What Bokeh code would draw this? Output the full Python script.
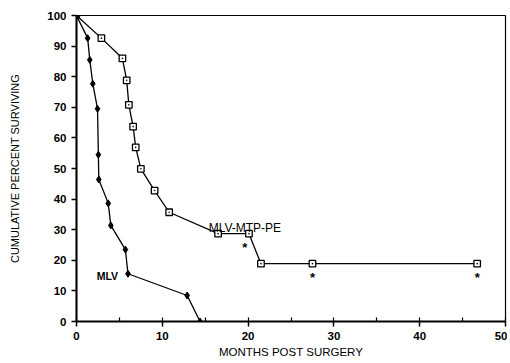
from bokeh.plotting import figure
from bokeh.models import SingleIntervalTicker, Range1d
from bokeh.embed import file_html
from bokeh.resources import INLINE
from bokeh.core.properties import value

# MLV (filled diamonds)
mlv_months = [0, 1.3, 1.55, 1.9, 2.45, 2.55, 2.6, 3.7, 4.0, 5.7, 6.0, 12.9, 14.4]
mlv_pct = [100, 92.6, 85.5, 77.7, 69.5, 54.5, 46.4, 38.6, 31.4, 23.5, 15.6, 8.5, 0]

# MLV-MTP-PE (open squares)
mtp_months = [0, 2.9, 5.35, 5.85, 6.1, 6.6, 6.9, 7.5, 9.1, 10.8, 16.5, 20.1, 21.5, 27.5, 46.7]
mtp_pct = [100, 92.6, 86, 78.8, 70.8, 63.7, 56.9, 49.9, 42.8, 35.7, 28.7, 28.7, 18.9, 18.9, 18.9]

# censored (asterisks drawn below these points)
censor_months = [19.6, 27.5, 46.7]
censor_pct = [28.7, 18.9, 18.9]

x_ticks = [0, 10, 20, 30, 40, 50]
y_ticks = [0, 10, 20, 30, 40, 50, 60, 70, 80, 90, 100]

FONT = "Liberation Sans"

p = figure(frame_width=429, frame_height=306, output_backend="svg", toolbar_location=None,
           x_range=Range1d(0, 50), y_range=Range1d(0, 100),
           min_border_left=76, min_border_right=2, min_border_top=15, min_border_bottom=26)
p.grid.visible = False
p.outline_line_color = "black"
p.outline_line_width = 1.2
p.background_fill_color = "white"
p.border_fill_color = "white"

p.xaxis.ticker = SingleIntervalTicker(interval=10, num_minor_ticks=2)
p.yaxis.ticker = SingleIntervalTicker(interval=10, num_minor_ticks=0)

for ax in (p.xaxis[0], p.yaxis[0]):
    ax.axis_line_width = 2
    ax.axis_line_color = "black"
    ax.major_tick_line_color = "black"
    ax.major_tick_line_width = 1.5
    ax.major_tick_in = 0
    ax.major_tick_out = 5
    ax.major_label_standoff = 5
    ax.major_label_text_font = FONT
    ax.major_label_text_font_style = "bold"
    ax.major_label_text_font_size = "11.5px"
    ax.major_label_text_color = "black"
    ax.axis_label_text_font = FONT
    ax.axis_label_text_font_style = "normal"
    ax.axis_label_text_color = "black"

p.xaxis.minor_tick_in = 4
p.xaxis.minor_tick_out = 0
p.xaxis.minor_tick_line_color = "black"
p.xaxis.minor_tick_line_width = 1.2
p.yaxis.minor_tick_line_color = None

p.xaxis.axis_label = "MONTHS POST SURGERY"
p.xaxis.axis_label_text_font_size = "11.5px"
p.xaxis.axis_label_standoff = 3
p.yaxis.axis_label = "CUMULATIVE PERCENT SURVIVING"
p.yaxis.axis_label_text_font_size = "11px"
p.yaxis.axis_label_standoff = 23

# lines
p.line(mlv_months, mlv_pct, line_color="black", line_width=1.3)
p.line(mtp_months, mtp_pct, line_color="black", line_width=1.3)

# markers
p.scatter(mlv_months, mlv_pct, marker="diamond", size=7, fill_color="black", line_color="black")
p.scatter(mtp_months[1:], mtp_pct[1:], marker="square_dot", size=6.5, fill_color="white",
          line_color="black", line_width=1.3)
p.scatter([mlv_months[0]], [mlv_pct[0]], marker="circle", size=7, fill_color="black", line_color="black")

# censoring asterisks
p.text(censor_months, censor_pct, text=["*"] * len(censor_months), text_align="center",
       text_baseline="top", y_offset=6, text_font=value(FONT), text_font_style="bold",
       text_font_size="13px", text_color="black")

# labels
p.text([15.4], [30.4], text=["MLV-MTP-PE"], text_align="left", text_baseline="alphabetic",
       text_font=value(FONT), text_font_size="12px", text_color="black")
p.text([4.85], [14.8], text=["MLV"], text_align="right", text_baseline="alphabetic",
       text_font=value(FONT), text_font_size="10.5px", text_font_style="bold", text_color="black")

open("out.html", "w").write(file_html(p, INLINE))
